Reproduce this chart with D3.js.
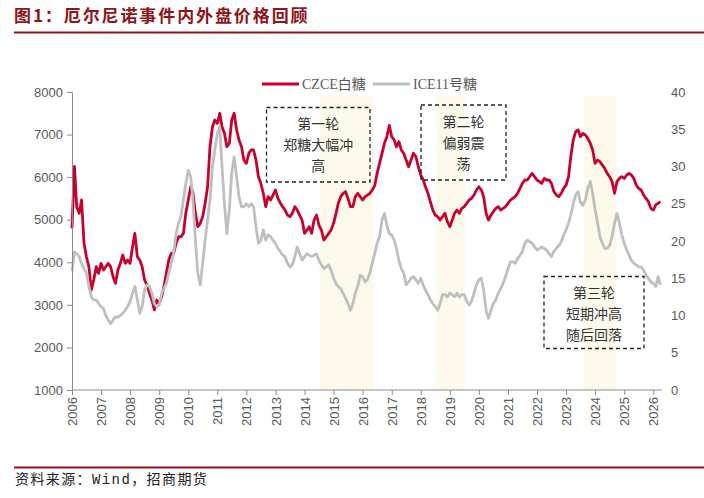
<!DOCTYPE html>
<html>
<head>
<meta charset="utf-8">
<script src="https://cdn.jsdelivr.net/npm/d3@7"></script>
<style>
  body { margin: 0; background: #fff; }
  svg text { font-family: "Liberation Sans", Arial, sans-serif; }
</style>
</head>
<body>
<div id="viz"></div>
<script>
// monthly series, first value = Jan 2006
var startYear = 2006;
var seriesNames = ["CZCE白糖", "ICE11号糖"];

// CZCE white sugar, yuan/ton (left axis)
var czce = [
  4800, 6250, 5306, 5150, 5463, 4450, 4130, 3900, 3350, 3584, 3896, 3740,
  3975, 3818, 3896, 3975, 3900, 3662, 3505, 3818, 3975, 4171, 3975, 4053,
  3975, 4366, 4680, 4131, 4053, 3896, 3584, 3466, 3270, 3114, 2879, 3114,
  3036, 3192, 3427, 3740, 4053, 4209, 4209, 4444, 4600, 4600, 4680, 5150,
  5463, 5775, 5620, 5150, 4836, 4915, 5072, 5385, 5775, 6715, 7185, 7342,
  7263, 7500, 7185, 7029, 6715, 6794, 7342, 7500, 7107, 6872, 6715, 6402,
  6323, 6560, 6638, 6638, 6402, 6010, 5853, 5620, 5306, 5541, 5463, 5580,
  5698, 5500, 5400, 5306, 5228, 5110, 5072, 5150, 5306, 5228, 5110, 4993,
  4680, 4758, 4836, 4680, 4993, 5110, 4875, 4758, 4523, 4600, 4680, 4758,
  4915, 5150, 5385, 5541, 5620, 5660, 5500, 5306, 5306, 5541, 5620, 5541,
  5463, 5541, 5580, 5620, 5698, 5800, 6088, 6323, 6558, 6794, 6950, 7215,
  6950, 6872, 6715, 6833, 6638, 6558, 6402, 6245, 6400, 6560, 6480, 6245,
  6050, 5933, 5775, 5620, 5424, 5228, 5110, 5072, 4993, 5072, 5150, 4954,
  4836, 4993, 5150, 5228, 5150, 5267, 5306, 5385, 5463, 5502, 5580, 5698,
  5775, 5698, 5541, 5150, 4993, 5110, 5190, 5267, 5306, 5228, 5267, 5306,
  5385, 5463, 5502, 5541, 5620, 5737, 5853, 5933, 5933, 6010, 6088, 6010,
  5933, 5893, 5853, 5970, 5933, 5933, 5853, 5660, 5580, 5541, 5620, 5737,
  5814, 6010, 6480, 6872, 7068, 7107, 6950, 7029, 6990, 6911, 6794, 6638,
  6323, 6402, 6363, 6284, 6206, 6088, 6010, 5893, 5620, 5893, 5970, 6010,
  5970, 6050, 6088, 6050, 5970, 5814, 5737, 5698, 5580, 5502, 5424, 5267,
  5228, 5346, 5385, 5424
];

// ICE No.11 raw sugar, cents/lb (right axis)
var ice = [
  16.0, 18.5, 18.3, 17.9, 17.0, 16.3, 15.7, 13.9, 12.5, 12.1, 12.1, 11.6,
  11.2, 10.9, 10.0, 9.4, 8.9, 9.4, 9.8, 9.8, 10.0, 10.3, 10.7, 11.2,
  11.9, 13.0, 13.9, 12.1, 10.3, 11.2, 13.4, 14.1, 13.9, 13.0, 11.6, 11.2,
  11.4, 13.0, 13.6, 14.3, 15.7, 17.0, 18.3, 21.0, 22.4, 23.3, 25.5, 27.7,
  29.5, 28.6, 25.5, 20.1, 15.7, 14.1, 17.0, 20.1, 22.8, 25.5, 30.0, 32.2,
  34.4, 35.3, 30.0, 25.0, 21.0, 24.2, 29.1, 31.3, 28.6, 25.9, 24.6, 24.6,
  25.0, 24.6, 25.0, 24.6, 21.9, 19.7, 20.1, 21.5, 20.1, 20.8, 20.6, 20.1,
  19.7, 19.0, 18.6, 18.1, 17.9, 17.0, 16.5, 16.8, 17.9, 19.2, 18.3, 17.4,
  17.9, 18.3, 18.1, 17.9, 18.1, 18.3, 17.4, 16.8, 16.3, 16.5, 16.8, 16.1,
  15.0, 14.3, 13.9, 13.6, 13.0, 12.3, 11.6, 10.7, 11.6, 13.0, 13.9, 15.4,
  15.2, 14.5, 14.8, 15.7, 17.0, 18.3, 19.7, 20.6, 22.8, 23.7, 22.1, 21.0,
  20.8, 20.1, 19.0, 17.4, 16.3, 15.7, 14.1, 14.5, 15.0, 15.2, 14.8, 14.3,
  15.0, 14.1, 13.4, 12.8, 12.1, 11.6, 11.2, 10.7, 11.6, 12.8, 12.8, 12.5,
  13.0, 12.8, 12.5, 13.0, 12.5, 12.8, 12.8, 11.9, 11.4, 11.9, 13.0, 14.1,
  14.8, 15.0, 13.4, 10.7, 9.6, 10.7, 11.6, 12.1, 13.0, 13.6, 14.3, 15.2,
  16.3, 17.2, 17.2, 17.0, 17.6, 18.1, 18.6, 19.7, 20.1, 19.9, 19.7, 19.2,
  18.8, 19.0, 19.2, 19.0, 18.8, 18.3, 17.9, 18.6, 19.0, 19.4, 19.9, 20.8,
  21.5, 22.4, 23.5, 25.0, 26.2, 26.6, 25.2, 24.8, 25.5, 27.1, 28.0, 26.4,
  24.2, 22.4, 20.6, 19.7, 19.0, 19.0, 19.4, 20.6, 22.4, 23.7, 22.4, 20.8,
  19.7, 18.8, 18.1, 17.4, 17.0, 16.8, 16.5, 16.5, 16.1, 15.4, 15.0, 14.5,
  14.3, 13.9, 15.2, 14.1
];

// El Nino periods (shaded)
var ninoStart = ["2014-07-08", "2018-07-15", "2023-08-15"];
var ninoEnd   = ["2016-05-15", "2019-07-08", "2024-09-20"];

// tick values
var leftTicks = [1000, 2000, 3000, 4000, 5000, 6000, 7000, 8000];
var rightTicks = [0, 5, 10, 15, 20, 25, 30, 35, 40];
var yearTicks = d3.range(2006, 2027);

// annotation texts
var noteLines = [
  ["第一轮", "郑糖大幅冲", "高"],
  ["第二轮", "偏弱震", "荡"],
  ["第三轮", "短期冲高", "随后回落"]
];

var title = "图1：厄尔尼诺事件内外盘价格回顾";
var source = "资料来源：Wind，招商期货";

//Define the size of the svg
var w = 704;
var h = 498;

var red = "#c8002d";
var grey = "#bfbfbf";
var darkRed = "#8f1418";

var parse = d3.timeParse("%Y-%m-%d");
var dates = czce.map(function(d, i){ return new Date(startYear, i, 1); });

var svg = d3.select("#viz")
            .append("svg")
            .attr("width", w)
            .attr("height", h);

var x = d3.scaleTime()
          .domain([new Date(2006, 0, 1), new Date(2026, 0, 1)])
          .range([72, 653.3]);

var yL = d3.scaleLinear().domain([1000, 8000]).range([390, 92]);
var yR = d3.scaleLinear().domain([0, 40]).range([390, 92]);

// title + rule
svg.append("text")
   .attr("x", 14)
   .attr("y", 22)
   .style("font-family", "'Noto Sans CJK SC'")
   .style("font-weight", "bold")
   .style("font-size", "17px")
   .style("letter-spacing", "1.9px")
   .style("fill", darkRed)
   .text(title);

svg.append("rect")
   .attr("x", 14).attr("y", 31.5)
   .attr("width", w - 14).attr("height", 2)
   .style("fill", darkRed);

// shaded bands
svg.selectAll("rect.band")
   .data(ninoStart)
   .enter()
   .append("rect")
   .attr("class", "band")
   .attr("x", function(d){ return x(parse(d)); })
   .attr("y", 96)
   .attr("width", function(d, i){ return x(parse(ninoEnd[i])) - x(parse(d)); })
   .attr("height", 390 - 96)
   .style("fill", "#fdfaeb");

// lines
var lineL = d3.line()
              .x(function(d, i){ return x(dates[i]); })
              .y(function(d){ return yL(d); });
var lineR = d3.line()
              .x(function(d, i){ return x(dates[i]); })
              .y(function(d){ return yR(d); });

svg.append("path")
   .datum(czce)
   .attr("d", lineL)
   .style("fill", "none")
   .style("stroke", red)
   .style("stroke-width", 2.8)
   .style("stroke-linejoin", "round");

svg.append("path")
   .datum(ice)
   .attr("d", lineR)
   .style("fill", "none")
   .style("stroke", grey)
   .style("stroke-width", 2.8)
   .style("stroke-linejoin", "round");

// left axis
var axL = svg.append("g")
             .attr("transform", "translate(72,0)")
             .call(d3.axisLeft(yL).tickValues(leftTicks).tickSize(5).tickPadding(4).tickFormat(d3.format("d")));

// bottom axis
var axB = svg.append("g")
             .attr("transform", "translate(0,390)")
             .call(d3.axisBottom(x).tickValues(yearTicks.map(function(y){ return new Date(y, 0, 1); }))
                     .tickSize(5).tickSizeOuter(0).tickFormat(d3.timeFormat("%Y")));
axB.select(".domain").attr("d", "M72,0H662");
axB.selectAll("text")
   .attr("transform", "rotate(-90)")
   .attr("x", -7)
   .attr("y", 0)
   .attr("dy", "0.35em")
   .style("text-anchor", "end");

// right axis labels only
svg.append("g")
   .selectAll("text")
   .data(rightTicks)
   .enter()
   .append("text")
   .attr("x", 671)
   .attr("y", function(d){ return yR(d); })
   .attr("dy", "0.35em")
   .text(function(d){ return d; });

svg.selectAll(".domain, .tick line").style("stroke", "#8c8c8c");
svg.selectAll("text").filter(function(){ return !this.style.fontFamily; })
   .style("font-size", "13px")
   .style("fill", "#595959");
axL.selectAll("text").style("font-size", "13px").style("fill", "#595959");
axB.selectAll("text").style("font-size", "13px").style("fill", "#595959");

// legend
var legend = svg.selectAll("g.legend")
                .data(seriesNames)
                .enter()
                .append("g")
                .attr("class", "legend")
                .attr("transform", function(d, i){ return "translate(" + (262 + i*111) + ",84)"; });
legend.append("line")
      .attr("x1", 0).attr("x2", 37)
      .style("stroke", function(d, i){ return i == 0 ? red : grey; })
      .style("stroke-width", 3);
legend.append("text")
      .attr("x", 40)
      .attr("dy", "0.35em")
      .style("font-family", "'Liberation Serif', 'Noto Sans CJK SC'")
      .style("font-size", "14px")
      .style("fill", "#595959")
      .text(function(d){ return d; });

// annotation boxes
var noteBox = [
  {x: 266.5, y: 107.5, w: 103.5, h: 74.5},
  {x: 421, y: 105, w: 85, h: 75},
  {x: 544, y: 276.5, w: 100, h: 72}
];
var notes = svg.selectAll("g.note")
               .data(noteLines)
               .enter()
               .append("g")
               .attr("class", "note")
               .attr("transform", function(d, i){ return "translate(" + noteBox[i].x + "," + noteBox[i].y + ")"; });
notes.append("rect")
     .attr("width", function(d, i){ return noteBox[i].w; })
     .attr("height", function(d, i){ return noteBox[i].h; })
     .style("fill", "none")
     .style("stroke", "#222")
     .style("stroke-width", 1.3)
     .style("stroke-dasharray", "4,3");
notes.each(function(d, i){
  d3.select(this).selectAll("text")
    .data(d)
    .enter()
    .append("text")
    .attr("x", noteBox[i].w / 2)
    .attr("y", function(t, j){ return 17 + j*21; })
    .attr("dy", "0.35em")
    .style("text-anchor", "middle")
    .style("font-family", "'Noto Sans CJK SC'")
    .style("font-size", "14px")
    .style("fill", "#333")
    .text(function(t){ return t; });
});

// footer
svg.append("rect")
   .attr("x", 14).attr("y", 466.5)
   .attr("width", w - 14).attr("height", 2)
   .style("fill", darkRed);
svg.append("text")
   .attr("x", 15)
   .attr("y", 484)
   .style("font-family", "'Liberation Mono', 'Noto Sans CJK SC'")
   .style("font-size", "14px")
   .style("letter-spacing", "1.4px")
   .style("fill", "#222")
   .text(source);
</script>
</body>
</html>
